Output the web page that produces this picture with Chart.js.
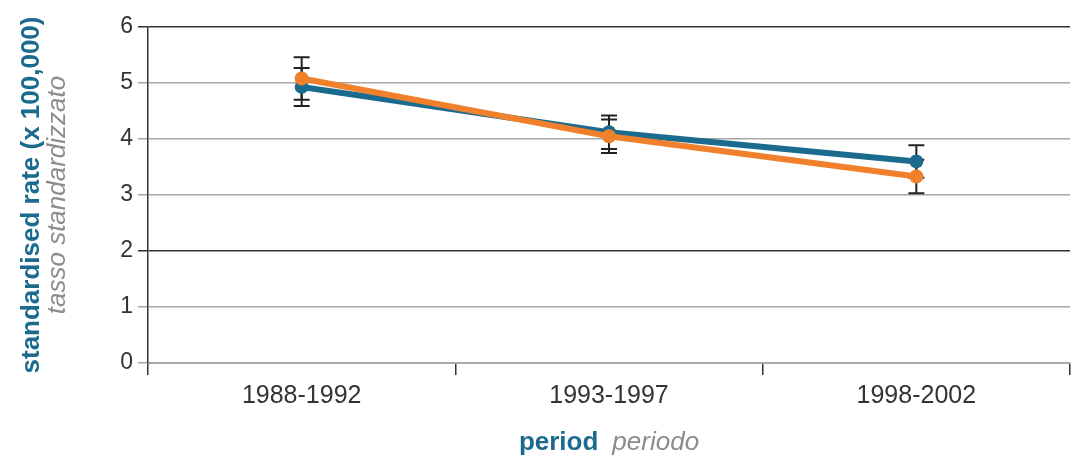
<!DOCTYPE html>
<html>
<head>
<meta charset="utf-8">
<script src="https://cdn.jsdelivr.net/npm/chart.js@4/dist/chart.umd.min.js"></script>
<style>
  html, body { margin: 0; padding: 0; background: #fff; }
  #wrap { width: 1082px; height: 461px; }
</style>
</head>
<body>
<div id="wrap"><canvas id="grafico"></canvas></div>
<script>
// dati
const periodi = ['1988-1992', '1993-1997', '1998-2002'];
const tassoBlu = [4.93, 4.12, 3.60];
const erroreBlu = [0.34, 0.30, 0.29];
const tassoArancio = [5.08, 4.05, 3.33];
const erroreArancio = [0.38, 0.30, 0.30];

const BLU = '#1b6b8e';
const ARANCIO = '#f0802c';
const GRIGIO = '#8c8c8c';
const FONT = '"Liberation Sans", Arial, sans-serif';

// barre d'errore, sotto le linee
const barreErrore = {
  id: 'barreErrore',
  beforeDatasetsDraw(chart) {
    const ctx = chart.ctx;
    const x = chart.scales.x, y = chart.scales.y;
    const serie = [[tassoBlu, erroreBlu], [tassoArancio, erroreArancio]];
    ctx.save();
    ctx.strokeStyle = '#222';
    ctx.lineWidth = 2;
    serie.forEach(([val, err]) => {
      val.forEach((v, i) => {
        const px = x.getPixelForValue(i);
        const top = y.getPixelForValue(v + err[i]);
        const bot = y.getPixelForValue(v - err[i]);
        ctx.beginPath();
        ctx.moveTo(px, top); ctx.lineTo(px, bot);
        ctx.moveTo(px - 8, top); ctx.lineTo(px + 8, top);
        ctx.moveTo(px - 8, bot); ctx.lineTo(px + 8, bot);
        ctx.stroke();
      });
    });
    ctx.restore();
  }
};

// titoli degli assi bilingui (due colori)
const titoli = {
  id: 'titoli',
  afterDraw(chart) {
    const ctx = chart.ctx;
    const a = chart.chartArea;
    ctx.save();
    // asse x
    ctx.textBaseline = 'middle';
    ctx.textAlign = 'left';
    const bold = 'bold 26px ' + FONT;
    const ital = 'italic 26px ' + FONT;
    ctx.font = bold;
    const w1 = ctx.measureText('period').width;
    ctx.font = ital;
    const w2 = ctx.measureText('periodo').width;
    const gap = 14;
    const sx = (a.left + a.right) / 2 - (w1 + gap + w2) / 2;
    ctx.font = bold;
    ctx.fillStyle = BLU;
    ctx.fillText('period', sx, 443);
    ctx.font = ital;
    ctx.fillStyle = GRIGIO;
    ctx.fillText('periodo', sx + w1 + gap, 443);
    // asse y
    ctx.translate(0, 195);
    ctx.rotate(-Math.PI / 2);
    ctx.textAlign = 'center';
    ctx.font = bold;
    ctx.fillStyle = BLU;
    ctx.fillText('standardised rate (x 100,000)', 0, 32);
    ctx.font = ital;
    ctx.fillStyle = GRIGIO;
    ctx.fillText('tasso standardizzato', 0, 58);
    ctx.restore();
  }
};

const ctx = document.getElementById('grafico');

new Chart(ctx, {
  type: 'line',
  data: {
    labels: periodi,
    datasets: [{
      label: 'arancio',
      data: tassoArancio,
      borderColor: ARANCIO,
      backgroundColor: ARANCIO,
      borderWidth: 6,
      pointRadius: 7,
      pointBorderWidth: 0,
      pointHoverRadius: 7,
      tension: 0
    }, {
      label: 'blu',
      data: tassoBlu,
      borderColor: BLU,
      backgroundColor: BLU,
      borderWidth: 6,
      pointRadius: 7,
      pointBorderWidth: 0,
      pointHoverRadius: 7,
      tension: 0
    }]
  },
  options: {
    responsive: true,
    maintainAspectRatio: false,
    animation: false,
    layout: { padding: { top: 27, right: 12, left: 0, bottom: 0 } },
    plugins: {
      legend: { display: false },
      tooltip: { enabled: false }
    },
    scales: {
      x: {
        offset: true,
        afterFit(scale) { scale.height = 98; },
        grid: {
          offset: true,
          drawOnChartArea: false,
          tickLength: 12,
          color: '#333',
          lineWidth: 1.5
        },
        border: { color: '#a8a8a8', width: 2 },
        ticks: {
          color: '#333',
          padding: 6,
          font: { size: 25, family: FONT }
        }
      },
      y: {
        min: 0,
        max: 6,
        afterFit(scale) { scale.width = 148; },
        grid: {
          color: (c) => (c.tick && (c.tick.value === 6 || c.tick.value === 2)) ? '#333' : '#a8a8a8',
          lineWidth: 1.5,
          tickLength: 10
        },
        border: { color: '#333', width: 1.5 },
        ticks: {
          stepSize: 1,
          color: '#333',
          padding: 5,
          font: { size: 23, family: FONT }
        }
      }
    }
  },
  plugins: [barreErrore, titoli]
});
</script>
</body>
</html>
